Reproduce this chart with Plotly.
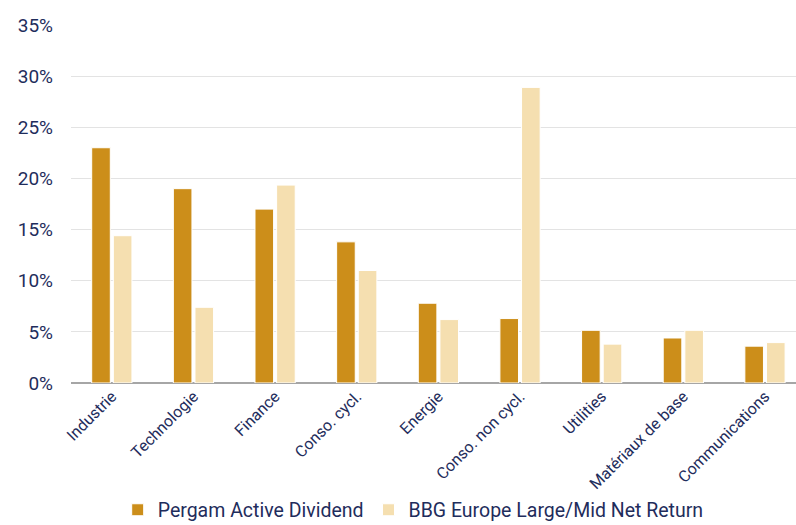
import plotly.graph_objects as go

categories = ["Industrie", "Technologie", "Finance", "Conso. cycl.", "Energie",
              "Conso. non cycl.", "Utilities", "Matériaux de base", "Communications"]
pergam = [23.0, 19.0, 17.0, 13.8, 7.8, 6.3, 5.15, 4.4, 3.6]
bbg = [14.4, 7.4, 19.35, 11.0, 6.2, 28.9, 3.8, 5.15, 3.95]
y_ticks = [0, 5, 10, 15, 20, 25, 30, 35]
y_labels = [f"{v}%" for v in y_ticks]

navy = "#1F2D5C"
fig = go.Figure()
fig.add_trace(go.Bar(x=categories, y=pergam, name="Pergam Active Dividend",
                     marker=dict(color="#CC8E1A", line=dict(color="white", width=1))))
fig.add_trace(go.Bar(x=categories, y=bbg, name="BBG Europe Large/Mid Net Return",
                     marker=dict(color="#F5DFB0", line=dict(color="white", width=1))))

fig.update_layout(
    width=796, height=525,
    margin=dict(l=71, r=0, t=25, b=142, autoexpand=False),
    paper_bgcolor="white", plot_bgcolor="white",
    barmode="group", bargap=0.47, bargroupgap=0.14,
    font=dict(family="Roboto", color=navy),
    xaxis=dict(range=[-0.5, 8.38], tickangle=-45, tickfont=dict(size=16, color=navy),
               showgrid=False, showline=False, ticks="", automargin=False),
    yaxis=dict(range=[0, 35], tickvals=y_ticks, ticktext=y_labels, automargin=False,
               tickfont=dict(size=19, color=navy), gridcolor="#E3E3E3", gridwidth=1.3,
               zeroline=True, zerolinecolor="#A6A6A6", zerolinewidth=1.5,
               ticklabelstandoff=17),
    legend=dict(orientation="h", x=0.472, xanchor="center", y=-0.355, yanchor="middle",
                font=dict(size=19.5, color=navy), itemwidth=30, traceorder="normal"),
)
fig.write_html("out.html")
